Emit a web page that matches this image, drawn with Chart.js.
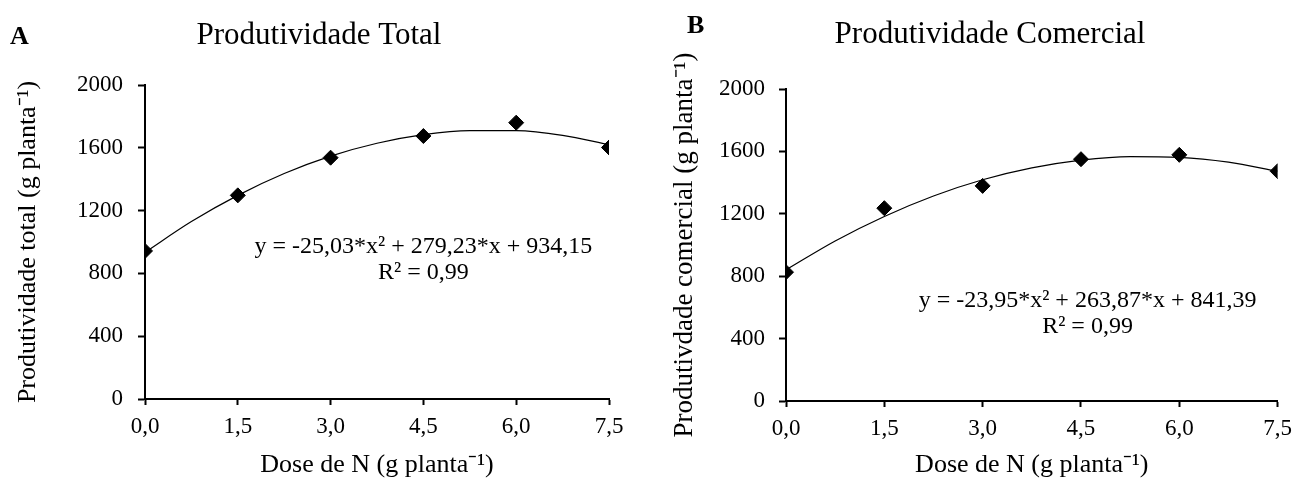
<!DOCTYPE html>
<html>
<head>
<meta charset="utf-8">
<script src="https://cdn.jsdelivr.net/npm/chart.js@4.4.1/dist/chart.umd.min.js"></script>
<style>
  html, body { margin: 0; padding: 0; background: #fff; }
  body { width: 1300px; height: 478px; position: relative; overflow: hidden; }
  .panel { position: absolute; top: 0; height: 478px; }
  #panelA { left: 0; width: 640px; }
  #panelB { left: 640px; width: 660px; }
</style>
</head>
<body>
<div class="panel" id="panelA"><canvas id="chartA"></canvas></div>
<div class="panel" id="panelB"><canvas id="chartB"></canvas></div>
<script>
// N doses (g planta-1)
const doses = [0, 1.5, 3.0, 4.5, 6.0, 7.5];
const xTicks = [0, 1.5, 3.0, 4.5, 6.0, 7.5];
const yTicks = [0, 400, 800, 1200, 1600, 2000];

const totalObs = [943, 1297, 1537, 1675, 1760, 1602];
const comercialObs = [826, 1236, 1379, 1550, 1578, 1473];

// fitted curves
const trendX = [0, 0.75, 1.5, 2.25, 3.0, 3.75, 4.5, 5.25, 6.0, 6.75, 7.5];
const trendTotal = [934, 1130, 1297, 1436, 1547, 1629, 1684, 1710, 1709, 1679, 1620];
const trendComercial = [841, 1026, 1183, 1314, 1418, 1494, 1544, 1567, 1562, 1531, 1473];

const serif = "'Liberation Serif', 'Times New Roman', serif";

// draws panel letter, heading and regression equation
const annotations = {
    id: "annotations",
    afterDraw(chart, args, opts) {
        const ctx = chart.ctx;
        const xs = chart.scales.x, ys = chart.scales.y;
        ctx.save();
        ctx.fillStyle = "#000";
        ctx.textBaseline = "alphabetic";

        ctx.font = "bold 26px " + serif;
        ctx.textAlign = "left";
        ctx.fillText(opts.letter, opts.letterPos[0], opts.letterPos[1]);

        ctx.font = "31px " + serif;
        ctx.textAlign = "center";
        ctx.fillText(opts.heading, opts.headingPos[0], opts.headingPos[1]);

        ctx.font = "24px " + serif;
        const ex = xs.getPixelForValue(opts.eqAt[0]);
        const ey = ys.getPixelForValue(opts.eqAt[1]);
        ctx.fillText(opts.equation, ex, ey);
        ctx.fillText("R² = 0,99", ex, ey + 26);
        ctx.restore();
    }
};

function makeChart(id, obs, trend, yTitle, cfg) {
    const ctx = document.getElementById(id).getContext("2d");
    return new Chart(ctx, {
        type: "scatter",
        data: {
            datasets: [{
                label: "ajuste",
                data: trendX.map((x, i) => ({ x: x, y: trend[i] })),
                showLine: true,
                borderColor: "#000",
                borderWidth: 1.2,
                pointRadius: 0,
                cubicInterpolationMode: "monotone",
                order: 2
            }, {
                label: "observado",
                data: doses.map((x, i) => ({ x: x, y: obs[i] })),
                pointStyle: "rectRot",
                pointRadius: 7.5,
                backgroundColor: "#000",
                borderColor: "#000",
                order: 1
            }]
        },
        options: {
            responsive: true,
            maintainAspectRatio: false,
            animation: false,
            layout: { padding: cfg.padding },
            plugins: {
                legend: { display: false },
                tooltip: { enabled: false },
                annotations: cfg.annot
            },
            scales: {
                x: {
                    type: "linear",
                    min: 0,
                    max: 7.5,
                    afterBuildTicks: (scale) => { scale.ticks = xTicks.map(v => ({ value: v })); },
                    afterFit: (scale) => { scale.height = cfg.xHeight; },
                    ticks: {
                        color: "#000",
                        font: { family: serif, size: 23 },
                        padding: 8,
                        maxRotation: 0,
                        callback: (v) => v.toFixed(1).replace(".", ",")
                    },
                    grid: { drawOnChartArea: false, color: "#000", tickLength: 6, tickWidth: 2 },
                    border: { color: "#000", width: 2 },
                    title: {
                        display: true,
                        text: "Dose de N (g planta⁻¹)",
                        color: "#000",
                        font: { family: serif, size: 26, lineHeight: 1 },
                        padding: { top: 0, bottom: 0 }
                    }
                },
                y: {
                    min: 0,
                    max: 2000,
                    afterBuildTicks: (scale) => { scale.ticks = yTicks.map(v => ({ value: v })); },
                    afterFit: (scale) => { scale.width = cfg.yWidth; },
                    ticks: {
                        color: "#000",
                        font: { family: serif, size: 23 },
                        padding: cfg.yTickPad,
                        callback: (v) => String(v)
                    },
                    grid: { drawOnChartArea: false, color: "#000", tickLength: 7, tickWidth: 2 },
                    border: { color: "#000", width: 2 },
                    title: {
                        display: true,
                        text: yTitle,
                        color: "#000",
                        font: { family: serif, size: cfg.yTitleSize, lineHeight: 1 },
                        padding: { top: cfg.yTitlePad, bottom: 0 }
                    }
                }
            }
        },
        plugins: [annotations]
    });
}

makeChart("chartA", totalObs, trendTotal, "Produtividade total (g planta⁻¹)", {
    padding: { left: 0, right: 31, top: 85, bottom: 0 },
    yWidth: 145,
    xHeight: 79,
    yTickPad: 15,
    yTitlePad: 15,
    yTitleSize: 26,
    annot: {
        letter: "A",
        letterPos: [10, 44],
        heading: "Produtividade Total",
        headingPos: [319, 44],
        equation: "y = -25,03*x² + 279,23*x + 934,15",
        eqAt: [4.5, 930]
    }
});

makeChart("chartB", comercialObs, trendComercial, "Produtivdade comercial (g planta⁻¹)", {
    padding: { left: 0, right: 17, top: 89, bottom: 0 },
    yWidth: 146,
    xHeight: 77,
    yTickPad: 14,
    yTitlePad: 31,
    yTitleSize: 27,
    annot: {
        letter: "B",
        letterPos: [47, 33],
        heading: "Produtividade Comercial",
        headingPos: [350, 43],
        equation: "y = -23,95*x² + 263,87*x + 841,39",
        eqAt: [4.6, 604]
    }
});
</script>
</body>
</html>
